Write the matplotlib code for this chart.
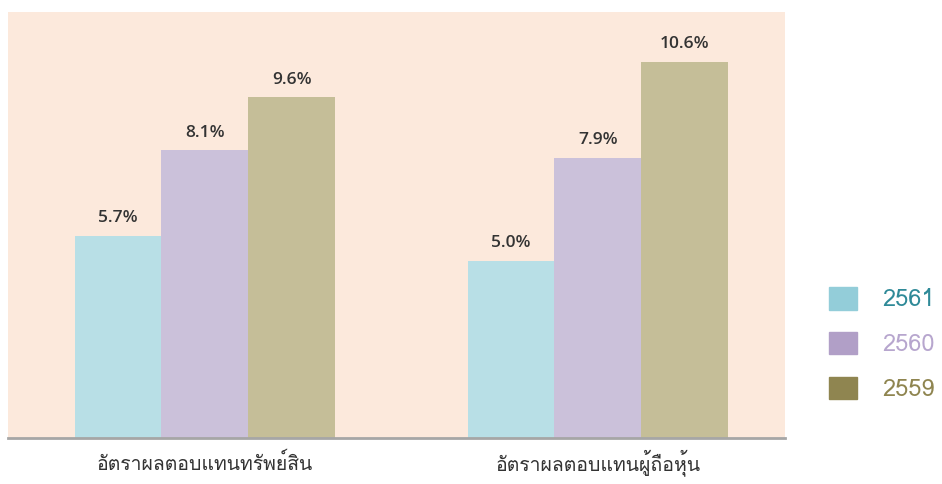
import matplotlib
matplotlib.use("Agg")
import matplotlib.pyplot as plt
from matplotlib import font_manager
from matplotlib.ft2font import FT2Font
from matplotlib.patches import Patch
import numpy as np

categories = ["อัตราผลตอบแทนทรัพย์สิน", "อัตราผลตอบแทนผู้ถือหุ้น"]
years = ["2561", "2560", "2559"]
values_2561 = [5.7, 5.0]
values_2560 = [8.1, 7.9]
values_2559 = [9.6, 10.6]

bar_colors = ["#B8DFE6", "#CBC1DA", "#C5BE98"]
legend_colors = ["#93CDD9", "#B19FC7", "#8F8550"]
legend_text_colors = ["#2F8A98", "#B7A6CE", "#8F8550"]


def find_thai_font():
    # pick any installed family that has Thai glyphs
    for f in font_manager.fontManager.ttflist:
        try:
            if 0x0E2D in FT2Font(f.fname).get_charmap():
                return f.name
        except Exception:
            pass
    return "DejaVu Sans"


thai_font = find_thai_font()
installed = {f.name for f in font_manager.fontManager.ttflist}
if "Liberation Sans Narrow" in installed:
    legend_font, legend_size = "Liberation Sans Narrow", 21
else:
    legend_font, legend_size = thai_font, 17
px = legend_size * 100 / 72

fig = plt.figure(figsize=(9.42, 4.84), dpi=100)
ax = fig.add_axes([8 / 942, 1 - 438 / 484, 777 / 942, 426 / 484])
ax.set_facecolor("#FCE9DC")

x = np.arange(len(categories))
w = 0.221
series = [values_2561, values_2560, values_2559]
for i, vals in enumerate(series):
    bars = ax.bar(x + (i - 1) * w, vals, w, color=bar_colors[i], zorder=2)
    for b, v in zip(bars, vals):
        ax.text(b.get_x() + b.get_width() / 2, v + 0.27, f"{v:.1f}%",
                ha="center", va="bottom", fontsize=12.5, fontweight="semibold",
                color="#333333", family="Open Sans")

ax.set_xlim(-0.501, 1.476)
ax.set_ylim(0, 12)
ax.set_yticks([])
ax.set_xticks(x)
ax.set_xticklabels(categories, family=[thai_font, "DejaVu Sans"], fontsize=14,
                   color="#333333", va="center")
ax.tick_params(axis="x", length=0, pad=18)
for s in ["top", "left", "right"]:
    ax.spines[s].set_visible(False)
ax.spines["bottom"].set_color("#A6A6A6")
ax.spines["bottom"].set_linewidth(2)

handles = [Patch(color=c) for c in legend_colors]
leg = fig.legend(handles, years, loc="center left", bbox_to_anchor=(808 / 942, 1 - 344 / 484),
                 frameon=False, handlelength=28 / px, handleheight=26 / px,
                 labelspacing=0.87, handletextpad=25 / px,
                 prop={"family": legend_font, "size": legend_size})
for t, c in zip(leg.get_texts(), legend_text_colors):
    t.set_color(c)

fig.savefig("out.png", dpi=100)
